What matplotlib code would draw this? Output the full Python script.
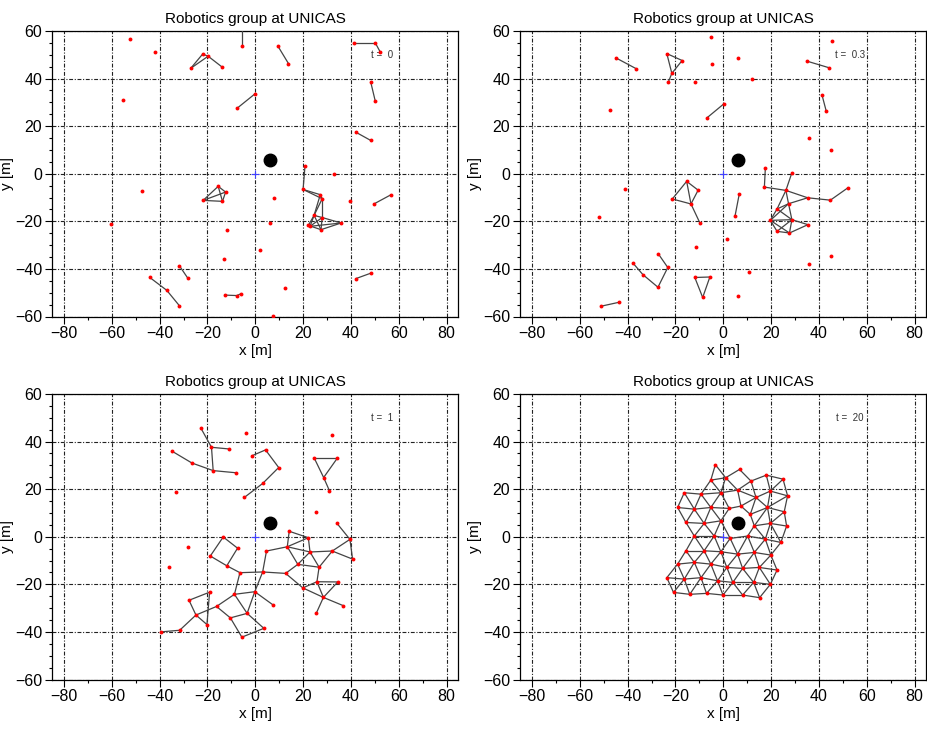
import matplotlib
matplotlib.use("Agg")
import matplotlib.pyplot as plt
from matplotlib.ticker import MultipleLocator

plt.rcParams['font.family'] = ['Liberation Sans', 'DejaVu Sans']

# robot positions [m] and links, read from the four snapshots
t0_x = [-52.2, -42.1, -5.7, -5.7, 9.5, 13.9, 41.1, 50.2, 52.2, -22.0,
        -19.7, -27.0, -13.8, 48.3, 50.2, -55.2, -0.1, -7.5, 42.0, 48.3,
        20.8, 20.0, 32.9, -47.3, -15.5, -12.4, -21.8, -13.7, 7.8, 39.6,
        49.8, 56.8, 27.2, 28.0, 24.6, 28.0, 22.2, 22.9, 27.5, 35.9,
        -60.4, 6.0, -11.7, 2.0, -13.1, -31.7, -28.2, -44.1, -37.0, -31.7,
        -12.8, -7.7, -6.1, 12.4, 42.0, 48.3, 7.3]
t0_y = [56.6, 51.3, 53.8, 63.0, 53.6, 46.3, 55.0, 55.0, 51.3, 50.3,
        49.4, 44.3, 44.8, 38.5, 30.5, 31.2, 33.6, 27.6, 17.5, 14.0,
        3.2, -6.6, -0.3, -7.1, -5.3, -7.7, -11.2, -11.6, -10.1, -11.6,
        -12.6, -8.8, -8.8, -10.5, -17.5, -18.4, -21.7, -22.1, -23.5, -20.7,
        -21.0, -20.7, -23.5, -31.9, -35.9, -38.7, -43.9, -43.6, -49.0, -55.5,
        -51.0, -51.2, -50.5, -48.0, -44.1, -41.8, -59.9]
t0_links = [(2, 3), (4, 5), (6, 7), (7, 8), (9, 10), (11, 9), (11, 10), (10, 12),
            (13, 14), (16, 17), (18, 19), (20, 21), (24, 25), (24, 26), (24, 27),
            (25, 27), (26, 27), (26, 25), (30, 31), (21, 32), (21, 33), (32, 33),
            (32, 34), (33, 34), (33, 35), (34, 35), (34, 36), (34, 37), (34, 38),
            (35, 37), (35, 38), (35, 39), (36, 37), (36, 38), (37, 39), (38, 39),
            (45, 46), (47, 48), (48, 49), (50, 51), (51, 52), (54, 55)]

t03_x = [-5.2, 45.5, -44.9, -36.3, -23.6, -17.2, -21.5, -22.9, -4.7, 6.3,
         -12.0, 11.9, 35.1, 44.1, -47.4, 0.4, -6.7, 41.3, 43.1, 36.0,
         45.0, -40.9, -51.9, -15.3, -10.5, -21.3, -13.5, -9.8, 6.7, 4.9,
         1.5, -11.3, 17.6, 17.2, 28.7, 26.2, 35.3, 44.8, 52.0, 27.3,
         22.5, 19.7, 28.7, 35.4, 22.5, 27.7, -37.8, -33.6, -27.3, -23.2,
         -27.2, -11.9, -5.6, -8.6, 10.6, 6.3, 35.7, 45.0, -51.2, -43.5]
t03_y = [57.5, 55.8, 48.7, 44.1, 50.5, 47.6, 42.2, 38.7, 46.2, 48.7,
         38.5, 39.7, 47.3, 44.6, 26.7, 29.5, 23.6, 33.1, 26.2, 15.0,
         9.8, -6.3, -18.0, -3.2, -6.9, -10.6, -12.7, -20.6, -8.5, -17.9,
         -27.4, -30.8, 2.3, -5.6, 0.4, -7.0, -10.1, -11.1, -6.0, -12.6,
         -14.8, -19.6, -19.3, -21.4, -24.2, -24.9, -37.5, -42.4, -47.7, -39.4,
         -33.6, -43.6, -43.4, -52.0, -41.1, -51.5, -37.8, -34.4, -55.7, -54.0]
t03_links = [(2, 3), (4, 5), (4, 6), (5, 6), (6, 7), (12, 13), (15, 16), (17, 18),
             (23, 25), (23, 24), (23, 26), (24, 26), (25, 26), (26, 27), (28, 29),
             (32, 33), (33, 35), (34, 35), (35, 36), (36, 37), (37, 38), (35, 39),
             (35, 40), (36, 39), (39, 40), (40, 41), (39, 41), (39, 42), (40, 42),
             (41, 42), (41, 44), (41, 45), (42, 43), (42, 44), (42, 45), (44, 45),
             (45, 43), (46, 47), (47, 48), (48, 49), (49, 50), (51, 52), (51, 53),
             (52, 53), (58, 59)]

t1_x = [-22.7, -18.3, -11.0, -34.7, -26.5, -17.6, -8.1, -3.9, -1.5, 4.3,
        9.8, 3.1, -4.6, 31.9, 24.7, 34.3, 28.6, 31.0, -33.1, 25.2,
        -28.2, -36.1, -13.4, -7.4, -18.8, -11.9, -6.4, 3.1, 4.7, 12.7,
        14.2, 22.2, 34.2, 39.6, 40.7, 32.2, 22.9, 13.4, 17.8, 26.7,
        19.9, 25.8, 34.5, 28.5, 36.9, 25.5, -8.7, -0.2, 7.5, -19.1,
        -27.7, -16.2, -24.8, -20.2, -10.4, -3.4, 3.6, -5.6, -31.6, -39.6]
t1_y = [45.6, 37.6, 36.9, 35.9, 31.0, 27.8, 26.9, 43.8, 34.0, 36.5,
        29.1, 22.4, 16.5, 42.7, 33.0, 33.0, 24.9, 19.4, 18.7, 10.5,
        -4.3, -12.6, -0.1, -4.8, -8.1, -12.2, -15.1, -14.8, -6.0, -15.4,
        2.3, -0.4, 5.6, -1.1, -9.4, -6.0, -6.4, -4.2, -11.6, -12.8,
        -21.5, -18.9, -19.0, -25.5, -29.0, -32.2, -24.2, -23.1, -28.7, -23.3,
        -26.7, -29.3, -32.9, -36.9, -34.1, -32.2, -38.5, -42.2, -39.3, -40.0]
t1_links = [(0, 1), (1, 2), (1, 5), (3, 4), (4, 5), (5, 6), (8, 9), (9, 10),
            (10, 11), (11, 12), (14, 15), (14, 16), (15, 16), (16, 17),
            (22, 23), (22, 24), (23, 25), (24, 25), (25, 26), (26, 27), (27, 28),
            (27, 29), (28, 37), (30, 31), (30, 37), (31, 37), (31, 36), (37, 36),
            (36, 35), (35, 33), (32, 33), (33, 34), (35, 34), (37, 38), (36, 38),
            (36, 39), (38, 39), (35, 39), (38, 29), (29, 40), (39, 41), (40, 41),
            (41, 42), (40, 43), (42, 43), (43, 44), (43, 45), (41, 43),
            (26, 46), (27, 47), (46, 47), (46, 51), (46, 55), (47, 48), (47, 55),
            (49, 50), (49, 53), (50, 52), (51, 52), (51, 54), (52, 53), (52, 58),
            (58, 59), (54, 55), (54, 57), (55, 56), (56, 57)]

t20_x = [-3.3, 6.8,
         -5.2, 1.0, 11.6, 18.0, 25.0,
         -16.3, -9.3, -1.0, 6.0, 13.7, 19.7, 26.9,
         -19.1, -12.1, -5.2, 2.5, 7.4, 11.3, 18.5, 25.5,
         -15.6, -8.0, -1.0, 13.0, 19.7, 26.5,
         -12.1, -3.8, 2.9, 10.2, 17.6, 24.1,
         -15.6, -8.0, -1.0, 6.0, 13.0, 19.9,
         -19.1, -12.1, -5.2, 1.5, 8.1, 15.1, 22.5,
         -23.6, -16.3, -9.3, -2.4, 4.0, 12.7, 19.7,
         -20.8, -14.0, -7.0, -0.1, 8.1, 15.2]
t20_y = [30.3, 28.3,
         23.8, 24.8, 23.4, 25.9, 24.2,
         18.5, 17.9, 18.5, 19.6, 16.5, 19.2, 17.2,
         12.3, 11.6, 12.3, 11.9, 12.9, 9.4, 12.3, 10.5,
         6.0, 5.6, 6.7, 4.6, 5.6, 4.5,
         0.3, 0.3, -0.7, 0.3, -1.0, -2.4,
         -5.9, -5.9, -6.3, -7.3, -6.6, -7.7,
         -11.5, -10.8, -11.5, -12.9, -13.3, -12.9, -14.0,
         -17.2, -17.8, -17.2, -18.5, -19.2, -19.2, -20.0,
         -23.4, -24.2, -23.8, -24.5, -24.5, -25.6]
t20_links = [(0, 2), (0, 3), (1, 3), (1, 4), (2, 3), (4, 5), (5, 6),
             (2, 8), (2, 9), (3, 9), (3, 10), (4, 10), (4, 11), (5, 12), (6, 12), (6, 13),
             (7, 8), (8, 9), (9, 10), (10, 11), (11, 12), (12, 13),
             (7, 14), (7, 15), (8, 15), (8, 16), (9, 16), (9, 17), (10, 18), (11, 18),
             (11, 19), (11, 20), (12, 20), (13, 20), (13, 21),
             (14, 15), (15, 16), (16, 17), (17, 18), (18, 19), (19, 20), (20, 21),
             (14, 22), (15, 22), (15, 23), (16, 23), (16, 24), (17, 24), (19, 25),
             (20, 25), (20, 26), (21, 26), (21, 27),
             (22, 23), (23, 24), (25, 26), (26, 27),
             (22, 28), (23, 28), (23, 29), (24, 29), (24, 30), (25, 31), (25, 32),
             (26, 32), (26, 33), (27, 33),
             (28, 29), (29, 30), (30, 31), (31, 32), (32, 33),
             (28, 34), (28, 35), (29, 35), (29, 36), (30, 36), (30, 37), (31, 37),
             (31, 38), (32, 38), (32, 39), (33, 39),
             (34, 35), (35, 36), (36, 37), (37, 38), (38, 39),
             (34, 40), (34, 41), (35, 41), (35, 42), (36, 42), (36, 43), (37, 43),
             (37, 44), (38, 44), (38, 45), (39, 45), (39, 46),
             (40, 41), (41, 42), (42, 43), (43, 44), (44, 45), (45, 46),
             (40, 47), (40, 48), (41, 48), (41, 49), (42, 49), (42, 50), (43, 50),
             (43, 51), (44, 51), (44, 52), (45, 52), (45, 53), (46, 53),
             (47, 48), (48, 49), (49, 50), (50, 51), (51, 52), (52, 53),
             (47, 54), (48, 54), (48, 55), (49, 55), (49, 56), (50, 56), (50, 57),
             (51, 57), (51, 58), (52, 58), (52, 59), (53, 59),
             (54, 55), (55, 56), (56, 57), (57, 58), (58, 59)]

times = ["0", "0.3", "1", "20"]
source_xy = (6.0, 5.8)
title = "Robotics group at UNICAS"

panels = [(t0_x, t0_y, t0_links), (t03_x, t03_y, t03_links),
          (t1_x, t1_y, t1_links), (t20_x, t20_y, t20_links)]

W, H = 928, 730
boxes = [(52, 31), (520, 31), (52, 394), (520, 394)]
ax_w, ax_h = 406.5, 285.5

fig = plt.figure(figsize=(W / 100, H / 100), dpi=100)
grid_style = (0, (3.5, 1.5, 1, 1.5))

for (px, py), (xs, ys, links), t in zip(boxes, panels, times):
    ax = fig.add_axes([px / W, 1 - (py + ax_h) / H, ax_w / W, ax_h / H])
    ax.set_xlim(-85, 85)
    ax.set_ylim(-60, 60)
    ax.xaxis.set_major_locator(MultipleLocator(20))
    ax.xaxis.set_minor_locator(MultipleLocator(10))
    ax.yaxis.set_major_locator(MultipleLocator(20))
    ax.yaxis.set_minor_locator(MultipleLocator(5))
    ax.grid(True, which='major', color='#222222', linestyle=grid_style, linewidth=0.8)
    ax.tick_params(which='both', direction='out', top=False, right=False,
                   labelsize=11.5, width=0.8, pad=2)
    ax.tick_params(which='major', length=5)
    ax.tick_params(which='minor', length=2.5)
    for s in ax.spines.values():
        s.set_linewidth(0.9)

    for i, j in links:
        ax.plot([xs[i], xs[j]], [ys[i], ys[j]], color='#444444', lw=0.9,
                solid_capstyle='round', zorder=3)
    ax.plot(xs, ys, 'o', color='red', markersize=2.8, markeredgewidth=0, zorder=4)
    ax.plot(0, 0, '+', color='#4040ff', markersize=6, markeredgewidth=0.8, zorder=4)
    ax.plot(*source_xy, 'o', color='black', markersize=9, zorder=5)
    ax.text(53, 50, "t =  " + t, fontsize=7, color='#333333', ha='center', va='center')

    ax.set_title(title, fontsize=11, pad=6)
    ax.set_xlabel("x [m]", fontsize=11, labelpad=2)
    ax.set_ylabel("y [m]", fontsize=11, labelpad=1)

fig.savefig("out.png", dpi=100)
